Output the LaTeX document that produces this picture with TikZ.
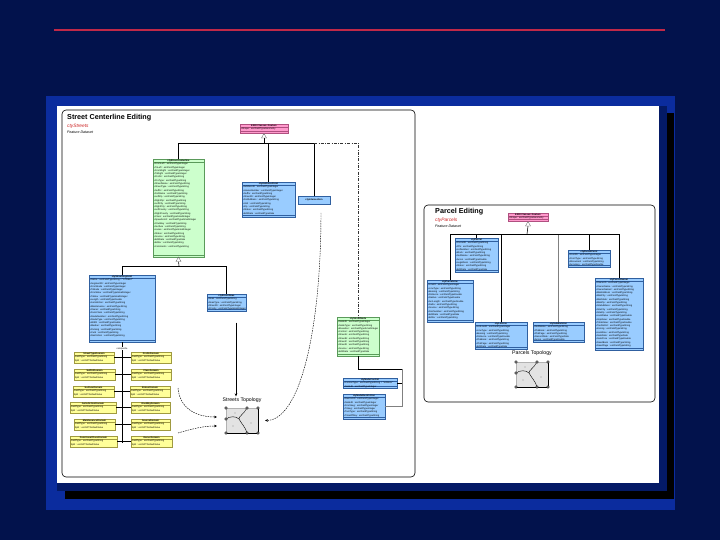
\documentclass[tikz,border=0pt]{standalone}
\usepackage{fontspec}
\setmainfont{Liberation Sans}
\usetikzlibrary{arrows.meta,calc}
\definecolor{navybg}{HTML}{02124C}
\definecolor{panelblue}{HTML}{0B2C9E}
\definecolor{framenavy}{HTML}{041A66}
\definecolor{redline}{HTML}{C02848}
\definecolor{pinkF}{HTML}{FF99CC}
\definecolor{pinkB}{HTML}{B05080}
\definecolor{greenF}{HTML}{CCFFCC}
\definecolor{greenB}{HTML}{5A9A5A}
\definecolor{blueF}{HTML}{99CCFF}
\definecolor{blueB}{HTML}{3060A0}
\definecolor{yelF}{HTML}{FFFF99}
\definecolor{yelB}{HTML}{A09A40}
\definecolor{ttred}{HTML}{CC2020}
\newcommand\umlf{\fontsize{2.35}{3.3}\selectfont}
\newcommand\umlt{\fontsize{2.4}{3}\selectfont\bfseries}
\newcommand\tyS{esriFieldTypeString}
\newcommand\tyI{esriFieldTypeInteger}
\newcommand\tySI{esriFieldTypeSmallInteger}
\newcommand\tyD{esriFieldTypeDate}
\newcommand\tyDb{esriFieldTypeDouble}
\newcommand\tyG{esriFieldTypeGUID}
% class box: name x1 y1 x2 y2 style title body
\newcommand\umlcls[8]{%
  \node[#6, anchor=north west, minimum width={#4-#2}, minimum height={#5-#3}, inner sep=0pt, outer sep=0pt] (#1) at (#2,#3) {};
  \node[anchor=north, inner sep=0pt, font=\umlt, yshift=-0.4pt] at (#1.north) {#7};
  \draw[#6, fill=none] ([yshift=-3.4pt]#1.north west) -- ([yshift=-3.4pt]#1.north east);
  \draw[#6, fill=none] ([yshift=2.2pt]#1.south west) -- ([yshift=2.2pt]#1.south east);
  \node[anchor=north west, inner sep=0pt, xshift=0.6pt, yshift=-3.8pt, font=\umlf, align=left] at (#1.north west) {#8};
}
% domain box: name x1 y1 x2 y2 title
\newcommand\ydom[6]{%
  \node[ybox, anchor=north west, minimum width={#4-#2}, minimum height={#5-#3}, inner sep=0pt, outer sep=0pt] (#1) at (#2,#3) {};
  \node[anchor=north, inner sep=0pt, font=\umlt, yshift=-0.4pt] at (#1.north) {#6};
  \draw[ybox, fill=none] ([yshift=-3.4pt]#1.north west) -- ([yshift=-3.4pt]#1.north east);
  \node[anchor=north west, inner sep=0pt, xshift=0.6pt, yshift=-3.8pt, font=\umlf, align=left] at (#1.north west) {FieldType : \tyS\\Split : esriSPTDefaultValue};
}
% topology figure details at top-left x y
\newcommand\topodet[2]{%
  \begin{scope}[shift={(#1,#2)}]
    \draw[line width=0.5pt] (32,0) -- (32,25) -- (0,25);
    \draw[line width=0.4pt] (21,0) .. controls (18,6) and (12,9) .. (13,11) .. controls (15,15) and (20,20) .. (21,25);
    \draw[line width=0.4pt] (0,11) .. controls (4,8) and (10,8) .. (13,11);
    \foreach \p in {(0,0),(21,0),(32,0),(0,11),(0,25),(21,25),(32,25)}
      \filldraw[fill=gray!55, draw=black, line width=0.3pt] \p circle (1.3pt);
    \foreach \p in {(9,5),(7,18),(25,15)}
      \fill \p circle (0.45pt);
  \end{scope}
}
\begin{document}
\begin{tikzpicture}[x=1pt,y=-1pt,
  pinkbox/.style={draw=pinkB, fill=pinkF, line width=0.35pt},
  greenbox/.style={draw=greenB, fill=greenF, line width=0.35pt},
  bluebox/.style={draw=blueB, fill=blueF, line width=0.35pt},
  ybox/.style={draw=yelB, fill=yelF, line width=0.35pt},
  conn/.style={draw=black, line width=0.55pt},
  gconn/.style={draw=gray, line width=0.55pt},
  gentri/.style={draw=gray!80!black, fill=white, line width=0.35pt},
  dashdotline/.style={draw=black!80, line width=0.5pt, dash pattern=on 3pt off 1.5pt on 0.6pt off 1.5pt},
  dep/.style={draw=black, line width=0.45pt, dash pattern=on 1.5pt off 1pt, -{Stealth[length=3pt,width=2.6pt]}},
  solidarrow/.style={draw=black, line width=0.6pt, -{Stealth[length=3pt,width=2.6pt]}},
  panel/.style={draw=black, line width=0.6pt, rounded corners=4pt, fill=white},
  paneltitle/.style={anchor=west, font=\fontsize{7.2}{8}\selectfont\bfseries, inner sep=0pt},
  dsname/.style={anchor=west, font=\fontsize{4.8}{5.5}\selectfont\itshape, text=ttred, inner sep=0pt},
  dskind/.style={anchor=west, font=\fontsize{3.6}{4.2}\selectfont\itshape, inner sep=0pt},
  toplabel/.style={font=\fontsize{5.2}{6}\selectfont, inner sep=0pt},
  topobox/.style={fill=gray!22, draw=gray!60, line width=0.3pt, inner sep=0pt, outer sep=0pt, minimum width=32pt, minimum height=25pt, anchor=north west}
]
\useasboundingbox (0,0) rectangle (720,540);
% slide background
\fill[navybg] (0,0) rectangle (720,540);
\draw[redline, line width=1.2pt] (54,30) -- (665,30);
\fill[panelblue] (46,96) rectangle (675,510);
% screenshot with shadow
\fill[black] (65,113) rectangle (674,499);
\fill[framenavy] (57,106) rectangle (667,491);
\fill[white] (57,106) rectangle (659,483);

% ================= Street Centerline Editing =================
\draw[panel] (62,110) rectangle (415,477);
\node[paneltitle] (t1) at (67,118) {Street Centerline Editing};
\node[dsname] (t1b) at (67,126) {ctyStreets};
\node[dskind] (t1c) at (67,132) {Feature Dataset};

\umlcls{p1}{240}{124}{288}{133.5}{pinkbox}{ESRI Classes::Feature}{+Shape : esriFieldTypeGeometry}

\umlcls{g1}{153}{159}{204}{257}{greenbox}{ctyStreetCenterline}{%
+FromLeft : \tyI\\+ToLeft : \tyI\\+FromRight : \tyI\\+ToRight : \tyI\\
+PreDir : \tyS\\+PreType : \tyS\\+StreetName : \tyS\\+StreetType : \tyS\\
+SufDir : \tyS\\+FullName : \tyS\\+LeftZip : \tyS\\+RightZip : \tyS\\
+LeftCity : \tyS\\+RightCity : \tyS\\+LeftCounty : \tyS\\+RightCounty : \tyS\\
+Class : \tySI\\+SpeedLimit : \tySI\\+OneWay : \tyS\\+Surface : \tyS\\
+Lanes : \tySI\\+Status : \tyS\\+Source : \tyS\\+EditDate : \tyD\\
+Editor : \tyS\\+Comments : \tyS}

\umlcls{br}{242}{182}{295}{217}{bluebox}{ctyAddressPoint}{%
+AddressID : \tyI\\+HouseNumber : \tyI\\+Suffix : \tyS\\+StreetID : \tyI\\
+FullAddress : \tyS\\+Unit : \tyS\\+Zip : \tyS\\+Status : \tyS\\+EditDate : \tyD}

\node[bluebox, anchor=north west, minimum width=32pt, minimum height=8pt, inner sep=0pt, outer sep=0pt, font=\umlt] (sb) at (298,196) {ctyIntersection};

\umlcls{b1}{89}{275}{155}{342}{bluebox}{ctyStreetSegment}{%
+Name : \tyS\ = "STREET"\\+SegmentID : \tyI\\+FromNode : \tyI\\+ToNode : \tyI\\
+FromElev : \tySI\\+ToElev : \tySI\\+Length : \tyDb\\+Jurisdiction : \tyS\\
+Maintenance : \tyS\\+Owner : \tyS\\+FuncClass : \tyS\\+RouteNumber : \tyS\\
+RouteType : \tyS\\+Width : \tyDb\\+Median : \tyS\\+Parking : \tyS\\
+Curb : \tyS\\+Restriction : \tyS}

\umlcls{b2}{207}{294}{246}{311.5}{bluebox}{ctyStreetAlias}{%
+Alias : \tyS\\+AliasType : \tyS\\+StreetID : \tyI\\+Priority : \tySI}

\umlcls{g2}{337}{317}{379}{356}{greenbox}{ctyStreetNode}{%
+NodeID : \tyI\\+NodeType : \tyS\\+Elevation : \tySI\\+Control : \tyS\\
+StreetA : \tyS\\+StreetB : \tyS\\+StreetC : \tyS\\+StreetD : \tyS\\
+Source : \tyS\\+EditDate : \tyD}

\umlcls{b3}{343}{378}{397}{388.5}{bluebox}{ctyNodeControl}{%
+ControlType : \tyS\ = "SIGNAL"\\+NodeID : \tyI}

\umlcls{b4}{343}{394}{385}{419}{bluebox}{ctyNodeRestriction}{%
+RestrictID : \tyI\\+NodeID : \tyI\\+FromSeg : \tyI\\+ToSeg : \tyI\\
+TurnType : \tyS\\+TimeOfDay : \tyS}

% domains
\ydom{yl1}{74}{352}{114}{363.5}{StreetTypeDomain}
\ydom{yr1}{131}{352}{171}{363.5}{PreDirDomain}
\ydom{yl2}{74}{369}{115}{380.5}{SufDirDomain}
\ydom{yr2}{131}{369}{171}{380.5}{ClassDomain}
\ydom{yl3}{73}{386}{114}{397.5}{SurfaceDomain}
\ydom{yr3}{130}{386}{170}{397.5}{StatusDomain}
\ydom{yl4}{70}{402}{116}{413.5}{JurisdictionDomain}
\ydom{yr4}{131}{402}{170}{413.5}{OneWayDomain}
\ydom{yl5}{74}{419}{115}{430.5}{MaintenanceDomain}
\ydom{yr5}{131}{419}{170}{430.5}{SourceDomain}
\ydom{yl6}{70}{436}{117}{447.5}{FunctionalClassDomain}
\ydom{yr6}{131}{436}{172}{447.5}{OwnerDomain}

% generalizations
\coordinate (bus1) at (264,143);
\draw[conn] ([yshift=-4.5pt]p1.south) -- (bus1);
\draw[gentri] (p1.south) -- ++(-2.5,4.5) -- ++(5,0) -- cycle;
\draw[conn] (g1.north) |- (bus1);
\draw[conn] (br.north) |- (bus1);
\draw[conn] (sb.north) |- (bus1);
\draw[dashdotline] (sb.north |- bus1) -| (g2.north);

\coordinate (bus3) at (179,266);
\draw[conn] ([yshift=-4.5pt]g1.south) -- (bus3);
\draw[gentri] (g1.south) -- ++(-2.5,4.5) -- ++(5,0) -- cycle;
\draw[conn] (b1.north) |- (bus3);
\draw[conn] (b2.north) |- (bus3);

% domain links
\coordinate (dend) at (122,443);
\draw[conn] (b1.south) -- (dend);
\foreach \i in {1,...,6} \draw[conn] (yl\i.east) -- (yr\i.west);
\node[font=\umlf, fill=white, inner sep=0.3pt] (comp) at (122,348.5) {composite};

% node relations
\coordinate (jn) at (402,369);
\draw[conn] (g2.south) |- (jn);
\draw[gconn] (jn) |- (b4.east);
\draw[conn] (b3.east) -- (b3.east -| jn);

% Streets topology
\node[toplabel] (stlab) at (242,400) {Streets Topology};
\node[topobox] (stopo) at (226,408) {};
\topodet{226}{408}
\draw[solidarrow] ([xshift=9.5pt, yshift=-11pt]b2.south) -- ([yshift=1pt]stlab.north -| 236,0);
\coordinate (ya1) at (178,388);
\coordinate (ya2) at (178,433);
\draw[dep] (ya1) .. controls (180,410) and (198,417) .. ([yshift=3.5pt, xshift=-9pt]stopo.west);
\draw[dep] (ya2) .. controls (195,428) and (205,426) .. ([yshift=-5.5pt, xshift=-9pt]stopo.west);
\draw[dep] ([xshift=7pt, yshift=-9pt]sb.south) .. controls (321,330) and (300,420) .. ([xshift=7pt]stopo.east);

% ================= Parcel Editing =================
\draw[panel] (424,205) rectangle (655,402);
\node[paneltitle] (t2) at (435,212) {Parcel Editing};
\node[dsname] (t2b) at (435,220) {ctyParcels};
\node[dskind] (t2c) at (435,226.5) {Feature Dataset};

\umlcls{p2}{508}{213}{548}{221.5}{pinkbox}{ESRI Classes::Feature}{+Shape : esriFieldTypeGeometry}

\umlcls{pb}{455}{238}{498}{272}{bluebox}{ctyParcel}{%
+ParcelID : \tyS\\+PIN : \tyS\\+LotNumber : \tyS\\+Block : \tyS\\
+SubName : \tyS\\+Acres : \tyDb\\+LegalDesc : \tyS\\+Status : \tyS\\+EditDate : \tyD}

\umlcls{pa}{427}{280}{473}{322}{bluebox}{ctyParcelLine}{%
+LineID : \tyI\\+LineType : \tyS\\+Bearing : \tyS\\+Distance : \tyDb\\
+Radius : \tyDb\\+ArcLength : \tyDb\\+Delta : \tyS\\+Source : \tyS\\
+DocNumber : \tyS\\+EditDate : \tyD\\+Editor : \tyS}

\umlcls{pc}{475}{322}{527}{349.5}{bluebox}{ctyLotLine}{%
+LotLineID : \tyI\\+LineType : \tyS\\+Bearing : \tyS\\+Distance : \tyDb\\
+PlatBook : \tyS\\+PlatPage : \tyS\\+EditDate : \tyD}

\umlcls{pd}{533}{322}{584}{342.5}{bluebox}{ctySubdivision}{%
+SubName : \tyS\\+PlatBook : \tyS\\+PlatPage : \tyS\\+RecordDate : \tyD\\+Acres : \tyDb}

\umlcls{pe}{568}{250}{610}{267.5}{bluebox}{ctyParcelPoint}{%
+PointID : \tyI\\+PointType : \tyS\\+Monument : \tyS\\+Accuracy : \tyDb}

\umlcls{pf}{595}{278}{643}{350}{bluebox}{ctyParcelOwner}{%
+OwnerID : \tyI\\+OwnerName : \tyS\\+OwnerName2 : \tyS\\+MailAddress : \tyS\\
+MailCity : \tyS\\+MailState : \tyS\\+MailZip : \tyS\\+SiteAddress : \tyS\\
+SiteCity : \tyS\\+SiteZip : \tyS\\+LandValue : \tyDb\\+ImpValue : \tyDb\\
+TotalValue : \tyDb\\+TaxDistrict : \tyS\\+Zoning : \tyS\\+LandUse : \tyS\\
+SaleDate : \tyD\\+SalePrice : \tyDb\\+DeedBook : \tyS\\+DeedPage : \tyS}

\coordinate (bus2) at (527,234);
\draw[conn] ([yshift=-4.5pt]p2.south) -- (bus2);
\draw[gentri] (p2.south) -- ++(-2.5,4.5) -- ++(5,0) -- cycle;
\draw[conn] (pa.north) |- (bus2);
\draw[conn] (pb.north) |- (bus2);
\draw[conn] (pc.north) |- (bus2);
\draw[gconn] (pd.north) |- (bus2);
\draw[conn] (pe.north) |- (bus2);
\draw[conn] (pf.north) |- (bus2);

% Parcels topology
\node[toplabel] (ptlab) at (532,353.5) {Parcels Topology};
\node[topobox] (ptopo) at (516,362) {};
\topodet{516}{362}
\end{tikzpicture}
\end{document}
